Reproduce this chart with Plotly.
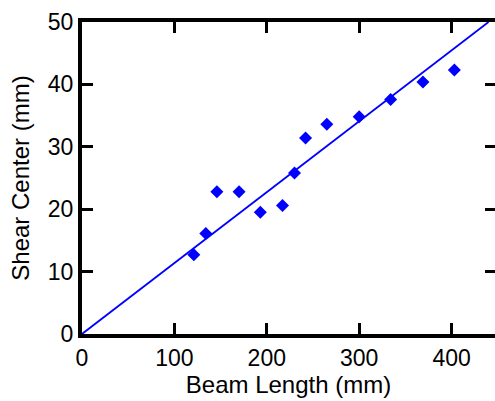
import plotly.graph_objects as go

beam_length = [121, 134, 146, 170, 193, 217, 230, 242, 265, 300, 334, 369, 403]
shear_center = [12.7, 16.1, 22.8, 22.8, 19.5, 20.6, 25.8, 31.4, 33.6, 34.8, 37.6, 40.4, 42.3]
fit_x = [0, 440]
fit_y = [0, 50]
x_ticks = [0, 100, 200, 300, 400]
y_ticks = [0, 10, 20, 30, 40, 50]

TICKFONT = dict(family="Liberation Sans, Arial, sans-serif", size=23, color="black")
TITLEFONT = dict(family="Liberation Sans, Arial, sans-serif", size=24, color="black")
BLUE = "rgb(0,0,255)"

fig = go.Figure()
fig.add_trace(go.Scatter(x=fit_x, y=fit_y, mode="lines",
                         line=dict(color=BLUE, width=1.8), yaxis="y2",
                         showlegend=False, hoverinfo="skip"))
fig.add_trace(go.Scatter(x=beam_length, y=shear_center, mode="markers",
                         marker=dict(symbol="diamond", size=10, color=BLUE),
                         showlegend=False))

fig.update_layout(
    width=495, height=401,
    margin=dict(l=82, r=0, t=22, b=67),
    paper_bgcolor="white", plot_bgcolor="white",
    font=TICKFONT,
    xaxis=dict(range=[0, 447], tickvals=x_ticks, ticks="inside", ticklen=11,
               tickwidth=3, tickcolor="black", showline=True, linewidth=4,
               linecolor="black", mirror="ticks", showgrid=False, zeroline=False,
               title=dict(text="Beam Length (mm)", standoff=6, font=TITLEFONT),
               tickfont=TICKFONT),
    yaxis=dict(range=[0, 50], tickvals=y_ticks, ticks="inside", ticklen=11,
               tickwidth=3, tickcolor="black", showline=True, linewidth=4,
               linecolor="black", mirror=False, showgrid=False, zeroline=False,
               title=dict(text="Shear Center (mm)", standoff=12, font=TITLEFONT),
               tickfont=TICKFONT),
    yaxis2=dict(range=[0, 50], tickvals=y_ticks, ticks="inside", ticklen=10,
                tickwidth=3, tickcolor="black", overlaying="y", side="right",
                showticklabels=False, showline=False, showgrid=False,
                zeroline=False),
)

fig.write_html("out.html")
